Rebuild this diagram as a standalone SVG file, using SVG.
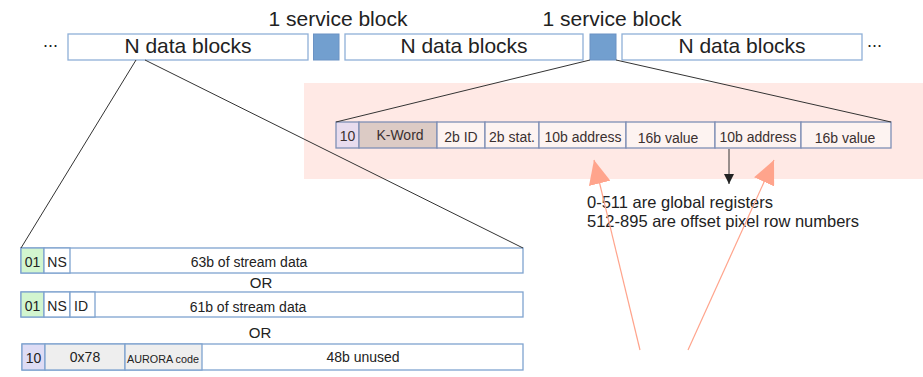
<svg xmlns="http://www.w3.org/2000/svg" width="923" height="377" viewBox="0 0 923 377">
  <style>
    text { font-family: "Liberation Sans", Arial, sans-serif; fill: #222; }
    .big { font-size: 21px; text-anchor: middle; }
    .dots { font-size: 18px; }
    .blk { fill: #fff; stroke: #8fb0d8; stroke-width: 1.3; }
    .svc { fill: #729fcf; stroke: #6a92c4; stroke-width: 1; }
    .cell { stroke: #7f8fb5; stroke-width: 1.3; fill: #fdf3f1; }
    .row { stroke: #7fa3cf; stroke-width: 1.3; fill: #fff; }
    .flag { fill: #e8dcee; }
    .kword { fill: #dccbc5; }
    .green { fill: #d2f5cf; }
    .lav { fill: #dedcf5; }
    .grey { fill: #eeeeee; }
    .t14 { font-size: 14px; text-anchor: middle; fill: #3a3030; }
    .t13 { font-size: 14px; text-anchor: middle; }
    .note { font-size: 16.5px; }
    .thin { stroke: #333; stroke-width: 1; fill: none; }
    .salmon { stroke: #ffa48c; stroke-width: 1.2; fill: none; }
  </style>
  <defs>
    <marker id="headBlack" markerUnits="userSpaceOnUse" markerWidth="10" markerHeight="10" refX="10" refY="5" orient="auto">
      <path d="M0,0 L10,5 L0,10 z" fill="#222"/>
    </marker>
    <marker id="headSalmon" markerUnits="userSpaceOnUse" markerWidth="24" markerHeight="22" refX="24" refY="11" orient="auto">
      <path d="M0,0 L24,11 L0,22 z" fill="#ffa48c"/>
    </marker>
  </defs>

  <!-- highlighted area behind the service word -->
  <rect id="highlight" x="304" y="83" width="619" height="96" fill="#ffe9e5"/>

  <!-- top stream of blocks -->
  <g id="stream">
    <text class="dots" x="43" y="47">...</text>
    <g id="data1">
      <rect class="blk" x="68" y="34" width="240" height="26"/>
      <text class="big" x="188" y="53">N data blocks</text>
    </g>
    <g id="service1">
      <rect class="svc" x="313.5" y="34" width="25.5" height="26"/>
      <text class="big" x="338" y="26">1 service block</text>
    </g>
    <g id="data2">
      <rect class="blk" x="345" y="34" width="238" height="26"/>
      <text class="big" x="464" y="53">N data blocks</text>
    </g>
    <g id="service2">
      <rect class="svc" x="590" y="34" width="26" height="26"/>
      <text class="big" x="612" y="26">1 service block</text>
    </g>
    <g id="data3">
      <rect class="blk" x="622" y="34" width="240" height="26"/>
      <text class="big" x="742" y="53">N data blocks</text>
    </g>
    <text class="dots" x="867" y="47">...</text>
  </g>

  <!-- service word layout -->
  <g id="serviceWord">
    <rect class="cell flag" x="336" y="122" width="23" height="26"/>
    <rect class="cell kword" x="359" y="122" width="78" height="26"/>
    <rect class="cell" x="437" y="122" width="48" height="26"/>
    <rect class="cell" x="485" y="122" width="54" height="26"/>
    <rect class="cell" x="539" y="122" width="87" height="26"/>
    <rect class="cell" x="626" y="122" width="89" height="26"/>
    <rect class="cell" x="715" y="122" width="86" height="26"/>
    <rect class="cell" x="801" y="122" width="90" height="26"/>
    <text class="t14" x="347.5" y="141">10</text>
    <text class="t14" x="400" y="140">K-Word</text>
    <text class="t14" x="461" y="142">2b ID</text>
    <text class="t14" x="512" y="142">2b stat.</text>
    <text class="t14" x="583" y="142">10b address</text>
    <text class="t14" x="668" y="143">16b value</text>
    <text class="t14" x="758" y="142">10b address</text>
    <text class="t14" x="845" y="143">16b value</text>
  </g>

  <!-- data word variants -->
  <g id="dataWord1">
    <rect class="row" x="21" y="248" width="502" height="25"/>
    <rect class="row green" x="21" y="248" width="23" height="25"/>
    <rect class="row" x="44" y="248" width="26" height="25"/>
    <text class="t13" x="32.5" y="267">01</text>
    <text class="t13" x="57" y="267">NS</text>
    <text class="t13" x="249" y="267">63b of stream data</text>
  </g>
  <text class="t13" x="261" y="288" style="font-size:15px">OR</text>
  <g id="dataWord2">
    <rect class="row" x="21" y="292" width="502" height="25"/>
    <rect class="row green" x="21" y="292" width="23" height="25"/>
    <rect class="row" x="44" y="292" width="26" height="25"/>
    <rect class="row" x="70" y="292" width="25" height="25"/>
    <text class="t13" x="32.5" y="311">01</text>
    <text class="t13" x="57" y="311">NS</text>
    <text class="t13" x="81" y="311">ID</text>
    <text class="t13" x="248" y="312">61b of stream data</text>
  </g>
  <text class="t13" x="260" y="338" style="font-size:15px">OR</text>
  <g id="auroraWord">
    <rect class="row" x="22" y="344" width="501" height="26"/>
    <rect class="row lav" x="22" y="344" width="23" height="26"/>
    <rect class="row grey" x="45" y="344" width="80" height="26"/>
    <rect class="row grey" x="125" y="344" width="77" height="26"/>
    <text class="t13" x="33.5" y="363">10</text>
    <text class="t13" x="85" y="362">0x78</text>
    <text class="t13" x="163" y="363" style="font-size:11px" textLength="72" lengthAdjust="spacingAndGlyphs">AURORA code</text>
    <text class="t13" x="363" y="362">48b unused</text>
  </g>

  <!-- address note -->
  <g id="addressNote">
    <text class="note" x="587" y="208">0-511 are global registers</text>
    <text class="note" x="587" y="227">512-895 are offset pixel row numbers</text>
  </g>

  <!-- connectors -->
  <g id="connectors">
    <line class="thin" x1="136" y1="60" x2="21" y2="248"/>
    <line class="thin" x1="145" y1="60" x2="523" y2="248"/>
    <line class="thin" x1="590" y1="60" x2="336" y2="122"/>
    <line class="thin" x1="616" y1="60" x2="891" y2="122"/>
    <line class="thin" x1="729" y1="149" x2="729" y2="184" marker-end="url(#headBlack)"/>
    <line class="salmon" x1="640" y1="350" x2="594" y2="160" marker-end="url(#headSalmon)"/>
    <line class="salmon" x1="688" y1="350" x2="774" y2="160" marker-end="url(#headSalmon)"/>
  </g>
</svg>
